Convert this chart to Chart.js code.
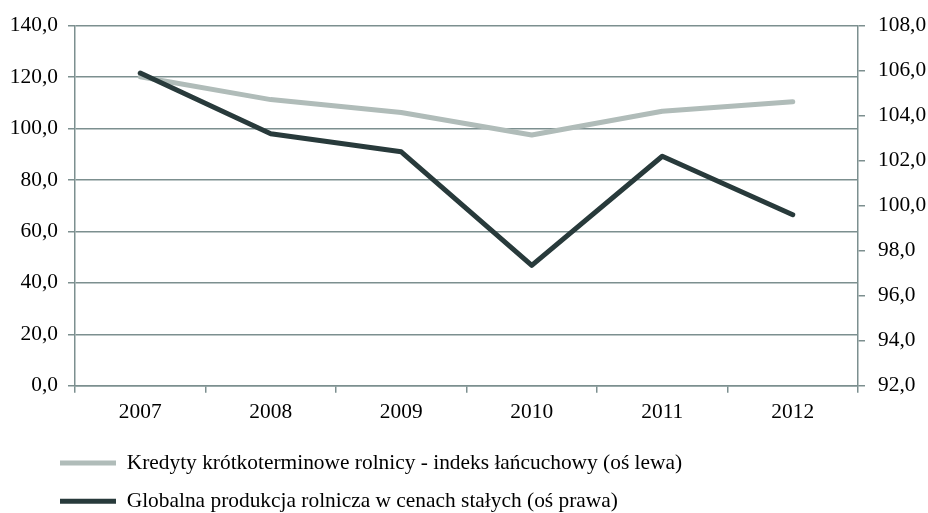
<!DOCTYPE html>
<html>
<head>
<meta charset="utf-8">
<script src="https://cdn.jsdelivr.net/npm/chart.js@4.4.1/dist/chart.umd.min.js"></script>
<style>
    html, body { margin: 0; padding: 0; background: #ffffff; }
</style>
</head>
<body>
<canvas id="chart" width="928" height="513"></canvas>
<script>
// Chart data
const years = ['2007', '2008', '2009', '2010', '2011', '2012'];
const creditsIndex = [120.2, 111.3, 106.3, 97.5, 106.8, 110.5];       // left axis
const productionIndex = [105.9, 103.2, 102.4, 97.35, 102.2, 99.6];    // right axis
const leftTicks = [0, 20, 40, 60, 80, 100, 120, 140];
const rightTicks = [92, 94, 96, 98, 100, 102, 104, 106, 108];
const creditsLabel = 'Kredyty krótkoterminowe rolnicy - indeks łańcuchowy (oś lewa)';
const productionLabel = 'Globalna produkcja rolnicza w cenach stałych (oś prawa)';

const gridColor = '#7c8f8f';
const textColor = '#000000';
const serif = { family: '"Liberation Serif", "Times New Roman", serif', size: 21.4 };

// Polish style number: 140,0
function commaFormat(value) {
    return value.toFixed(1).replace('.', ',');
}

function fixedTicks(list) {
    return function(scale) {
        scale.ticks = list.map(v => ({ value: v }));
    };
}

// Move the legend a bit to the right, under the plot
const legendShift = {
    id: 'legendShift',
    afterLayout(chart) {
        const legend = chart.legend;
        const w = legend.right - legend.left;
        legend.left = 43;
        legend.right = 43 + w;
    }
};

const ctx = document.getElementById('chart').getContext('2d');

new Chart(ctx, {
    type: 'line',
    data: {
        labels: years,
        datasets: [{
            label: creditsLabel,
            data: creditsIndex,
            yAxisID: 'y',
            borderColor: '#b0bcb9',
            backgroundColor: '#b0bcb9',
            borderWidth: 5,
            borderCapStyle: 'round',
            borderJoinStyle: 'round',
            pointRadius: 0,
            tension: 0,
            order: 1
        }, {
            label: productionLabel,
            data: productionIndex,
            yAxisID: 'y2',
            borderColor: '#283a3b',
            backgroundColor: '#283a3b',
            borderWidth: 5,
            borderCapStyle: 'round',
            borderJoinStyle: 'round',
            pointRadius: 0,
            tension: 0,
            order: 0
        }]
    },
    plugins: [legendShift],
    options: {
        responsive: false,
        animation: false,
        layout: {
            padding: { top: 23, left: 0, right: 0, bottom: -9 }
        },
        plugins: {
            tooltip: { enabled: false },
            legend: {
                position: 'bottom',
                align: 'start',
                labels: {
                    color: textColor,
                    font: serif,
                    padding: 17,
                    usePointStyle: true,
                    pointStyle: 'line',
                    pointStyleWidth: 56,
                    sort: (a, b) => a.datasetIndex - b.datasetIndex
                }
            }
        },
        scales: {
            x: {
                offset: true,
                grid: {
                    offset: true,
                    drawOnChartArea: false,
                    drawTicks: true,
                    tickLength: 7,
                    color: gridColor,
                    lineWidth: 1.5
                },
                border: { color: gridColor, width: 1.5 },
                ticks: { color: textColor, font: serif, padding: 7, maxRotation: 0 },
                afterFit: function(scale) { scale.height = 49.5; }
            },
            y: {
                position: 'left',
                min: 0,
                max: 140,
                afterBuildTicks: fixedTicks(leftTicks),
                grid: {
                    color: gridColor,
                    lineWidth: 1.5,
                    tickLength: 7
                },
                border: { color: gridColor, width: 1.5 },
                ticks: {
                    color: textColor,
                    font: serif,
                    padding: 10,
                    callback: commaFormat
                },
                afterFit: function(scale) { scale.width = 75; }
            },
            y2: {
                position: 'right',
                min: 92,
                max: 108,
                afterBuildTicks: fixedTicks(rightTicks),
                grid: {
                    drawOnChartArea: false,
                    color: gridColor,
                    lineWidth: 1.5,
                    tickLength: 7
                },
                border: { color: gridColor, width: 1.5 },
                ticks: {
                    color: textColor,
                    font: serif,
                    padding: 13,
                    callback: commaFormat
                },
                afterFit: function(scale) { scale.width = 70; }
            }
        }
    }
});
</script>
</body>
</html>
